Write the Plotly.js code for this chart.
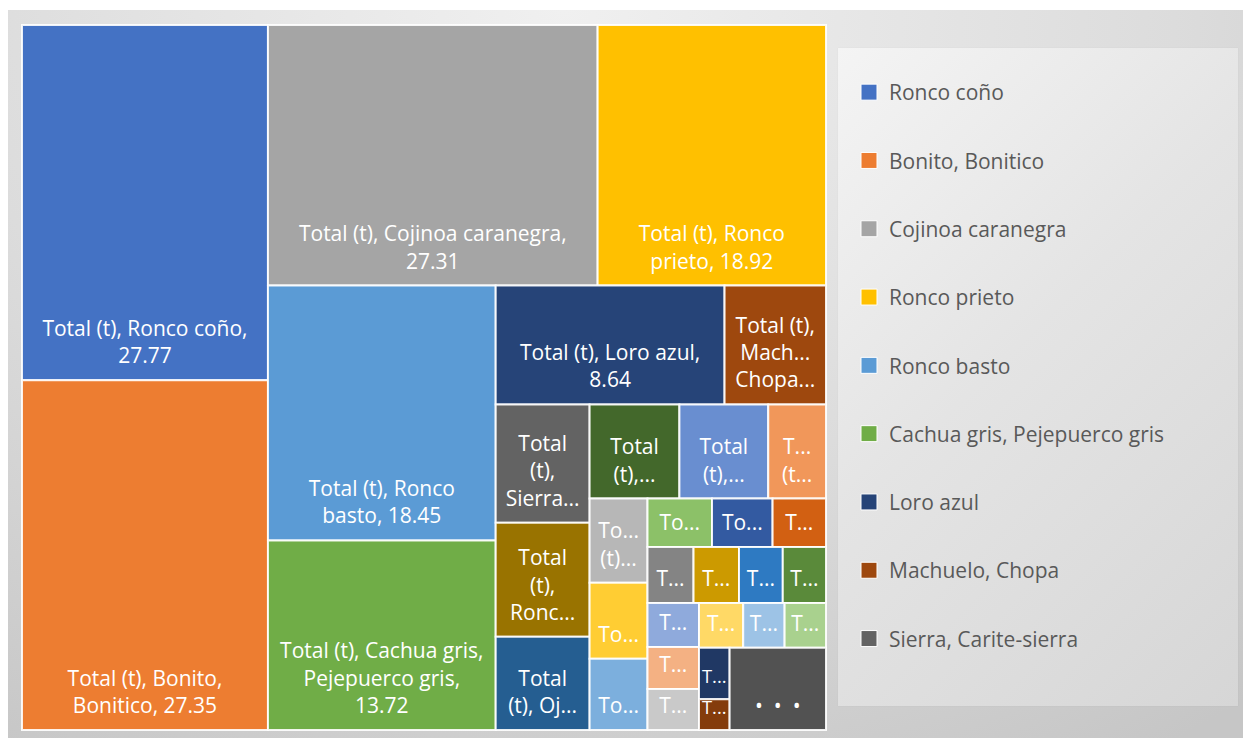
<!DOCTYPE html>
<html>
<head>
<meta charset="utf-8">
<script src="https://cdn.plot.ly/plotly-3.0.1.min.js"></script>
<style>
  html, body { margin: 0; padding: 0; background: #ffffff; }
  #wrap { position: relative; width: 1243px; height: 738px; overflow: hidden; background: #ffffff; }
  #frame { position: absolute; left: 8px; top: 10px; width: 1235px; height: 728px;
    background: radial-gradient(ellipse 90% 120% at 45% 0%, #f0f0f0 0%, #dcdcdc 55%, #c6c6c6 100%); }
  #legbox { position: absolute; left: 838px; top: 48px; width: 400px; height: 658px;
    background: linear-gradient(135deg, #f4f4f4 0%, #e4e4e4 45%, #d6d6d6 100%);
    box-shadow: 0 0 1px rgba(0,0,0,0.08); }
  #chart { position: absolute; left: 0; top: 0; width: 1243px; height: 738px; }
</style>
</head>
<body>
<div id="wrap">
  <div id="frame"></div>
  <div id="legbox"></div>
  <div id="chart"></div>
</div>
<script>
// ---- data ----
const tileIds = ["s1","s2","s3","s4","s5","s6","s7","s8","s9","s10","s11","s12","s13","s14","s15","s16","s17","s18","s19","s20","s21","s22","s23","s24","s25","s26","s27","s28","s29","s30","s31","s32","s33"];
const tileLabels = ["Ronco coño","Bonito, Bonitico","Cojinoa caranegra","Ronco prieto","Ronco basto","Cachua gris, Pejepuerco gris","Loro azul","Machuelo, Chopa","Sierra, Carite-sierra","Ronc...","Oj...","(t),... a","(t),... b","T... (t...","To... (t)...","To... a","To... b","To... c","To... d","T... a","T... b","T... c","T... d","T... e","T... f","T... g","T... h","T... i","T... j","T... k","T... l","T... m","..."];
const tileValues = [27.77,27.35,27.31,18.92,18.45,13.72,8.64,3.83,3.53,3.41,2.78,2.69,2.66,1.73,1.55,1.40,1.31,0.99,0.93,0.82,0.82,0.81,0.78,0.77,0.72,0.69,0.67,0.63,0.59,0.59,0.50,0.30,2.52];
const tileText = ["Total (t), Ronco coño,<br>27.77","Total (t), Bonito,<br>Bonitico, 27.35","Total (t), Cojinoa caranegra,<br>27.31","Total (t), Ronco<br>prieto, 18.92","Total (t), Ronco<br>basto, 18.45","Total (t), Cachua gris,<br>Pejepuerco gris,<br>13.72","Total (t), Loro azul,<br>8.64","Total (t),<br>Mach...<br>Chopa...","Total<br>(t),<br>Sierra...","Total<br>(t),<br>Ronc...","Total<br>(t), Oj...","Total<br>(t),...","Total<br>(t),...","T...<br>(t...","To...<br>(t)...","To...","To...","To...","To...","T...","T...","T...","T...","T...","T...","T...","T...","T...","T...","T...","T...","T...","•\u00a0\u00a0•\u00a0\u00a0•"];
const tileColors = ["#4472C4","#ED7D31","#A5A5A5","#FFC000","#5B9BD5","#70AD47","#264478","#9E480E","#636363","#997300","#255E91","#43682B","#698ED0","#F1975A","#B7B7B7","#FFCD33","#7CAFDD","#8CC168","#335AA1","#D26012","#848484","#CC9A00","#2E7AC2","#5A8A3A","#8FAADC","#F4B183","#C9C9C9","#FFD966","#9DC3E6","#A9D18E","#203864","#843C0C","#525252"];
const legendNames = ["Ronco coño","Bonito, Bonitico","Cojinoa caranegra","Ronco prieto","Ronco basto","Cachua gris, Pejepuerco gris","Loro azul","Machuelo, Chopa","Sierra, Carite-sierra"];

const FONT = '"Open Sans", "Noto Sans", sans-serif';
const LABEL_LIFT = 8; // extra bottom padding of the tile labels, px

const traces = [{
  type: 'treemap',
  ids: tileIds,
  labels: tileLabels,
  parents: tileIds.map(() => ''),
  values: tileValues,
  text: tileText,
  texttemplate: '%{text}',
  textposition: 'bottom center',
  sort: false,
  branchvalues: 'remainder',
  hoverinfo: 'skip',
  tiling: { packing: 'squarify', squarifyratio: 1, pad: 0 },
  pathbar: { visible: false },
  marker: { colors: tileColors, pad: { t: 0, l: 0, r: 0, b: 0 }, line: { color: 'rgba(255,255,255,0.9)', width: 2 } },
  textfont: { family: FONT, size: 21, color: '#ffffff' },
  domain: { x: [0, 1], y: [0, 1] }
}];

legendNames.forEach((n, i) => {
  traces.push({
    type: 'scatter', mode: 'markers', x: [null], y: [null], name: n,
    legendgroup: 'g' + i, showlegend: true, hoverinfo: 'skip',
    marker: { symbol: 'square', size: 18, color: tileColors[i], line: { color: '#ffffff', width: 1 } }
  });
});

const layout = {
  width: 1243, height: 738,
  margin: { l: 22, r: 417, t: 25, b: 8, pad: 0, autoexpand: false },
  paper_bgcolor: 'rgba(0,0,0,0)',
  plot_bgcolor: 'rgba(0,0,0,0)',
  showlegend: true,
  xaxis: { visible: false },
  yaxis: { visible: false },
  legend: {
    xref: 'container', yref: 'container',
    x: 849 / 1243, xanchor: 'left',
    y: 1 - 72 / 738, yanchor: 'top',
    bgcolor: 'rgba(0,0,0,0)',
    font: { family: FONT, size: 21, color: '#595959' },
    tracegroupgap: 38,
    maxheight: 700,
    itemclick: false, itemdoubleclick: false
  }
};

Plotly.newPlot('chart', traces, layout, { displayModeBar: false, staticPlot: true }).then(gd => {
  // give the bottom-anchored labels a little more bottom padding, like the original
  gd.querySelectorAll('g.slice text.slicetext').forEach(t => {
    const tr = t.getAttribute('transform') || '';
    t.setAttribute('transform', 'translate(0,' + (-LABEL_LIFT) + ') ' + tr);
  });
});
</script>
</body>
</html>
